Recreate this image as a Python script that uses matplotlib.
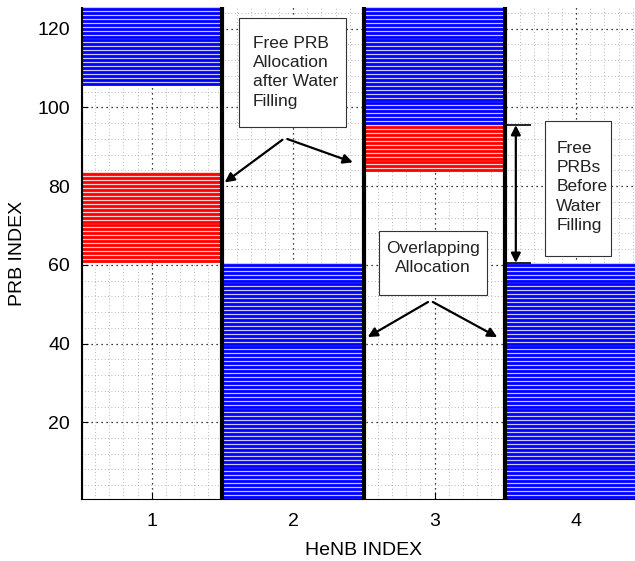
import matplotlib
matplotlib.use("Agg")
import matplotlib.pyplot as plt
from matplotlib.patches import Rectangle
from matplotlib.ticker import MultipleLocator

plt.rcParams["font.family"] = ["Liberation Sans", "DejaVu Sans"]

# HeNB columns and the PRB ranges (first, last) given to each
henb = [1, 2, 3, 4]
blue_ranges = [(106, 125), (1, 60), (96, 125), (1, 60)]
red_ranges = [(61, 83), None, (84, 95), None]
xticks = [1, 2, 3, 4]
yticks = [20, 40, 60, 80, 100, 120]

fig = plt.figure(figsize=(6.35, 5.61), dpi=100)
ax = fig.add_axes([0.1276, 0.1105, 0.891, 0.877])
ax.set_xlim(0.5, 4.5)
ax.set_ylim(0.5, 125.5)

# dotted grids (MATLAB style)
ax.xaxis.set_minor_locator(MultipleLocator(0.1))
ax.yaxis.set_minor_locator(MultipleLocator(4))
ax.grid(True, which="major", color="black", linestyle=(0, (1, 3)), linewidth=0.9, zorder=0.5)
ax.grid(True, which="minor", color="#a0a0a0", linestyle=(0, (1, 3)), linewidth=0.6, zorder=0.4)
ax.set_axisbelow(True)

def draw_block(c, rng, color, light):
    lo, hi = rng
    ax.add_patch(Rectangle((c - 0.5, lo - 0.5), 1.0, hi - lo + 1, facecolor=light,
                           edgecolor="none", zorder=1))
    ys = list(range(lo, hi + 1))
    ax.hlines(ys, c - 0.5, c + 0.5, colors=color, linewidth=2.0, zorder=2)

for c, b, r in zip(henb, blue_ranges, red_ranges):
    if b:
        draw_block(c, b, "#0000ff", "#c8c8ff")
    if r:
        draw_block(c, r, "#ff0000", "#ffd0d0")
    ax.vlines(c - 0.5, 0.5, 125.5, colors="black", linewidth=3, zorder=3)

ax.set_xticks(xticks)
ax.set_yticks(yticks)
ax.tick_params(which="major", direction="in", length=5, labelsize=14)
ax.tick_params(axis="x", which="major", pad=10)
ax.tick_params(axis="y", which="major", pad=8)
ax.tick_params(which="minor", length=0)
for s in ["top", "right"]:
    ax.spines[s].set_visible(False)
ax.set_xlabel("HeNB INDEX", fontsize=14, labelpad=9)
ax.set_ylabel("PRB INDEX", fontsize=14, labelpad=8)

arrow = dict(arrowstyle="-|>", color="black", lw=1.6, mutation_scale=14)

# "Free PRB Allocation after Water Filling"
ax.add_patch(Rectangle((1.62, 94.9), 0.75, 27.9, facecolor="white", edgecolor="#333333",
                       linewidth=0.8, zorder=4))
ax.text(1.715, 108.9, "Free PRB\nAllocation\nafter Water\nFilling", ha="left", va="center",
        fontsize=12.5, color="#222222", linespacing=1.35, zorder=5)
ax.annotate("", xy=(1.50, 80.5), xytext=(1.94, 92.2), arrowprops=arrow, zorder=5)
ax.annotate("", xy=(2.44, 85.8), xytext=(1.94, 92.2), arrowprops=arrow, zorder=5)

# "Overlapping Allocation"
ax.add_patch(Rectangle((2.61, 52.4), 0.76, 16.2, facecolor="white", edgecolor="#333333",
                       linewidth=0.8, zorder=4))
ax.text(2.99, 61.8, "Overlapping\nAllocation", ha="center", va="center",
        fontsize=12.5, color="#222222", linespacing=1.35, zorder=5)
ax.annotate("", xy=(2.51, 41.3), xytext=(2.97, 50.9), arrowprops=arrow, zorder=5)
ax.annotate("", xy=(3.46, 41.3), xytext=(2.97, 50.9), arrowprops=arrow, zorder=5)

# "Free PRBs Before Water Filling"
ax.add_patch(Rectangle((3.78, 62.3), 0.47, 34.2, facecolor="white", edgecolor="#333333",
                       linewidth=0.8, zorder=4))
ax.text(3.86, 79.8, "Free\nPRBs\nBefore\nWater\nFilling", ha="left", va="center",
        fontsize=12.5, color="#222222", linespacing=1.35, zorder=5)
ax.annotate("", xy=(3.574, 60.5), xytext=(3.574, 95.5),
            arrowprops=dict(arrowstyle="<|-|>", color="black", lw=1.6, mutation_scale=14,
                            shrinkA=0, shrinkB=0), zorder=5)
ax.hlines([95.5, 60.5], 3.5, 3.68, colors="black", linewidth=1.2, zorder=5)

fig.savefig("out.png", dpi=100)
